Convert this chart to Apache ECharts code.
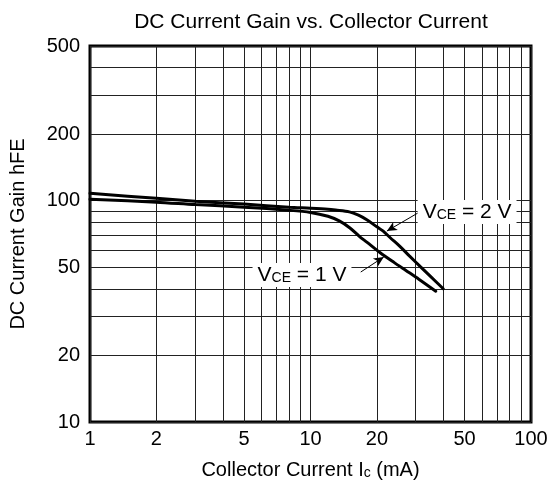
<!DOCTYPE html>
<html>
<head>
<meta charset="utf-8">
<style>html,body{margin:0;padding:0;background:#fff;}#c{width:559px;height:492px;}</style>
<script src="https://cdn.jsdelivr.net/npm/echarts@6/dist/echarts.min.js"></script>
</head>
<body>
<div id="c"></div>
<script>
const xGridValues = [1,2,3,4,5,6,7,8,9,10,20,30,40,50,60,70,80,90,100];
const xLabelValues = [1,2,5,10,20,50,100];
const yGridValues = [10,20,30,40,50,60,70,80,90,100,200,300,400,500];
const yLabelValues = [10,20,50,100,200,500];

const vce2 = [[1,108],[2,102.5],[3,99.5],[5,96.5],[8,93.5],[10,92.5],[12,91.5],[13,90.7],[15,89],[16.5,86],[18,82],[20,76.2],[21.3,73],[23,68],[25.5,62],[28,56.5],[31.4,50.5],[35,45.5],[40,40]];
const vce1 = [[1,101.5],[2,98.5],[3,96],[5,93.5],[8,90.5],[10,88.5],[12,85],[13.5,81],[15.1,75.3],[16.8,68.5],[18,65],[20.7,58.2],[24,52.5],[27,48.5],[31,44.2],[37,39]];

const label2Pos = [51.3, 88.9];
const label1Pos = [9.15, 46.2];
const arrow2 = [[30.7, 88.0], [22.2, 72.9]];
const arrow1 = [[16.9, 47.6], [21.5, 55.7]];

const FONT = 'Liberation Sans, Arial, sans-serif';
const chart = echarts.init(document.getElementById('c'), null, {renderer: 'canvas'});

const richLabel = {
  a: {fontSize: 21, fontFamily: FONT, color: '#000'},
  b: {fontSize: 14, fontFamily: FONT, color: '#000', verticalAlign: 'bottom', padding: [0,0,1,0]}
};

chart.setOption({
  animation: false,
  title: {
    text: 'DC Current Gain vs. Collector Current',
    left: 306, top: 7, textAlign: 'center',
    textStyle: {fontFamily: FONT, fontSize: 21, fontWeight: 'normal', color: '#000'}
  },
  grid: {left: 90, right: 28, top: 46, bottom: 70, show: true, borderColor: '#000', borderWidth: 3, backgroundColor: 'transparent'},
  xAxis: {
    type: 'log', logBase: 10, min: 1, max: 100,
    name: '{n|Collector Current I}{s|c}{n| (mA)}',
    nameLocation: 'middle', nameGap: 38,
    nameTextStyle: {rich: {n: {fontFamily: FONT, fontSize: 20, color: '#000'}, s: {fontFamily: FONT, fontSize: 14, color: '#000', verticalAlign: 'bottom'}}},
    axisLine: {show: false},
    axisTick: {show: false, customValues: xGridValues},
    axisLabel: {customValues: xLabelValues, formatter: v => String(Math.round(v)), fontFamily: FONT, fontSize: 20, color: '#000', margin: 7},
    splitLine: {show: true, lineStyle: {color: '#222', width: 1}},
    minorSplitLine: {show: false}
  },
  yAxis: {
    type: 'log', logBase: 10, min: 10, max: 500,
    name: 'DC Current Gain hFE',
    nameLocation: 'middle', nameGap: 62,
    nameTextStyle: {fontFamily: FONT, fontSize: 20, color: '#000'},
    axisLine: {show: false},
    axisTick: {show: false, customValues: yGridValues},
    axisLabel: {customValues: yLabelValues, formatter: v => String(Math.round(v)), fontFamily: FONT, fontSize: 20, color: '#000', margin: 10},
    splitLine: {show: true, lineStyle: {color: '#222', width: 1}}
  },
  series: [
    {
      name: 'VCE = 2 V', type: 'line', data: vce2, showSymbol: false, smooth: 0.3,
      lineStyle: {color: '#000', width: 3, cap: 'round'}, z: 3,
      markPoint: {
        silent: true, symbol: 'rect', symbolSize: 1, itemStyle: {color: 'rgba(0,0,0,0)'},
        label: {show: true, position: 'inside', backgroundColor: '#fff', padding: [2,5,1,5], formatter: '{a|V}{b|CE}{a| = 2 V}', rich: richLabel},
        data: [{coord: label2Pos}]
      },
      markLine: {
        silent: true, symbol: ['none','arrow'], symbolSize: [7, 10], label: {show: false},
        lineStyle: {color: '#000', width: 1, type: 'solid'},
        data: [[{coord: arrow2[0]}, {coord: arrow2[1]}]]
      }
    },
    {
      name: 'VCE = 1 V', type: 'line', data: vce1, showSymbol: false, smooth: 0.3,
      lineStyle: {color: '#000', width: 3, cap: 'round'}, z: 3,
      markPoint: {
        silent: true, symbol: 'rect', symbolSize: 1, itemStyle: {color: 'rgba(0,0,0,0)'},
        label: {show: true, position: 'inside', backgroundColor: '#fff', padding: [2,5,1,5], formatter: '{a|V}{b|CE}{a| = 1 V}', rich: richLabel},
        data: [{coord: label1Pos}]
      },
      markLine: {
        silent: true, symbol: ['none','arrow'], symbolSize: [7, 10], label: {show: false},
        lineStyle: {color: '#000', width: 1, type: 'solid'},
        data: [[{coord: arrow1[0]}, {coord: arrow1[1]}]]
      }
    }
  ]
});
</script>
</body>
</html>
